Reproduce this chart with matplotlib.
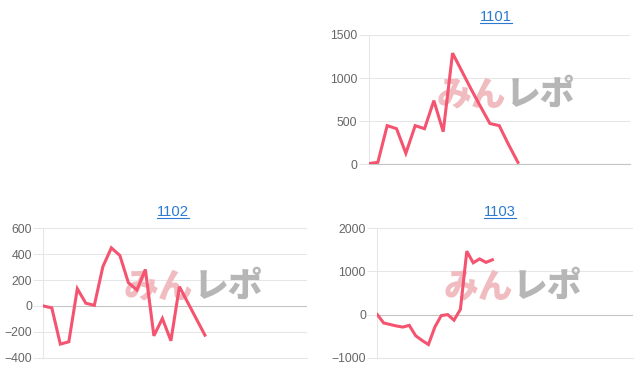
"""
Grafico de saldo por maquina (1101, 1102, 1103), estilo Chart.js.
"""
import matplotlib
matplotlib.use("Agg")
import matplotlib.pyplot as plt
from matplotlib.lines import Line2D
import numpy as np

# Estilo
C_LINE = "#f4546f"
C_TITLE = "#2a7ad2"
C_TICK = "#666666"
C_GRID = "#e6e6e6"
C_ZERO = "#c4c4c4"
C_WM_PINK = "#f0bcc0"
C_WM_GREY = "#b6b6b6"

plt.rcParams.update({
    "font.family": ["Liberation Sans", "DejaVu Sans"],
    "font.size": 8.6,
    "figure.facecolor": "white",
    "axes.facecolor": "white",
})

# Datos
VALS_1101 = [10, 25, 450, 415, 130, 450, 415, 740, 380, 1290, 1080, 870, 670, 475, 450, 230, 25]
VALS_1102 = [0, -15, -295, -277, 133, 21, 5, 303, 449, 390, 180, 123, 282, -231, -97, -269, 149, 24, -101, -226]
VALS_1103 = [0, -195, -230, -265, -290, -250, -490, -600, -695, -290, -25, 0, -130, 120, 1470, 1200, 1290, 1210, 1270]

N_SLOTS_1101 = 29
N_SLOTS_1102 = 32
N_SLOTS_1103 = 41

TICKS_1101 = [0, 500, 1000, 1500]
TICKS_1102 = [-400, -200, 0, 200, 400, 600]
TICKS_1103 = [-1000, 0, 1000, 2000]

W, H = 640, 372


def px_rect(left, top, right, bottom):
    return [left / W, 1 - bottom / H, (right - left) / W, (bottom - top) / H]


def draw_panel(fig, rect, vals, n_slots, ticks, title, title_xy, wm_xy):
    ax = fig.add_axes(rect)
    x = np.arange(len(vals))
    ax.plot(x, vals, color=C_LINE, lw=2.2, solid_joinstyle="miter", zorder=3)

    ax.set_xlim(0, n_slots - 1)
    ax.set_ylim(ticks[0], ticks[-1])
    ax.set_yticks(ticks)
    ax.set_xticks([])
    ax.grid(axis="y", color=C_GRID, lw=0.75, zorder=0)
    ax.axhline(0, color=C_ZERO, lw=0.75, zorder=1)
    ax.set_axisbelow(True)

    for s in ["top", "right"]:
        ax.spines[s].set_visible(False)
    ax.spines["left"].set_color(C_GRID)
    ax.spines["left"].set_linewidth(0.75)
    ax.spines["bottom"].set_color(C_GRID if ticks[0] != 0 else C_ZERO)
    ax.spines["bottom"].set_linewidth(0.75)
    ax.tick_params(axis="y", length=7.2, width=0.75, color=C_GRID, pad=1,
                   labelcolor=C_TICK, labelsize=8.8)

    # Marca de agua
    wx, wy = wm_xy
    ax.text(wx, wy, "みん", transform=ax.transAxes, ha="right", va="center",
            fontsize=25, fontweight="black", color=C_WM_PINK, zorder=2,
            family=["Noto Sans CJK JP", "DejaVu Sans"])
    ax.text(wx, wy, "レポ", transform=ax.transAxes, ha="left", va="center",
            fontsize=25, fontweight="black", color=C_WM_GREY, zorder=2,
            family=["Noto Sans CJK JP", "DejaVu Sans"])

    # Titulo con subrayado (tipo enlace)
    tx, ty = title_xy
    t = fig.text(tx / W, 1 - ty / H, title, ha="center", va="baseline",
                 fontsize=10.6, color=C_TITLE)
    return ax, t, ty


def main() -> None:
    fig = plt.figure(figsize=(W / 100, H / 100), dpi=100)

    panels = [
        draw_panel(fig, px_rect(368.5, 35, 630, 164.5), VALS_1101, N_SLOTS_1101, TICKS_1101,
                   "1101", (496, 21), (0.526, 0.54)),
        draw_panel(fig, px_rect(43.3, 228.3, 307, 357.7), VALS_1102, N_SLOTS_1102, TICKS_1102,
                   "1102", (172.7, 215.5), (0.57, 0.55)),
        draw_panel(fig, px_rect(377.3, 228.3, 633, 357.7), VALS_1103, N_SLOTS_1103, TICKS_1103,
                   "1103", (500, 215.5), (0.531, 0.55)),
    ]

    fig.canvas.draw()
    renderer = fig.canvas.get_renderer()
    for ax, t, ty in panels:
        bb = t.get_window_extent(renderer)
        y = (H - ty - 2.3) / H
        fig.add_artist(Line2D([bb.x0 / W, bb.x1 / W], [y, y], transform=fig.transFigure,
                              color=C_TITLE, lw=0.8))

    fig.savefig("out.png", dpi=100)
    plt.close(fig)


if __name__ == "__main__":
    main()
